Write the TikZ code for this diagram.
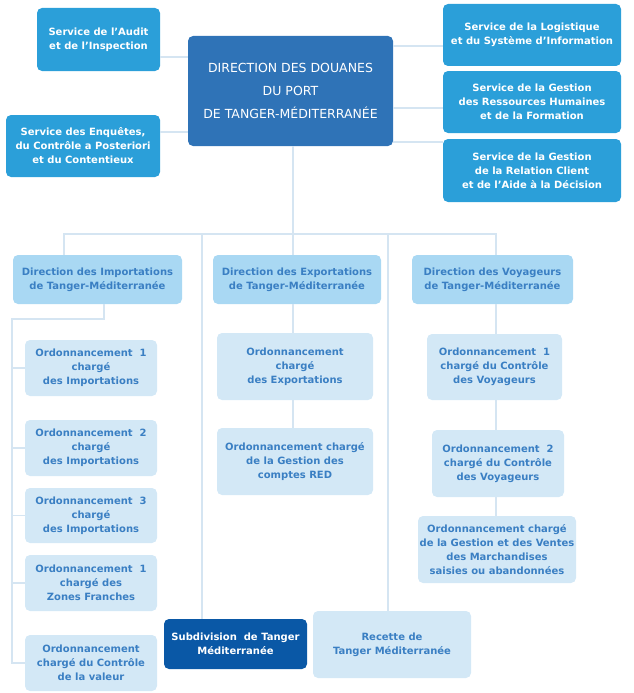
\documentclass[tikz,border=0pt]{standalone}
\usepackage{fontspec}
\setmainfont{DejaVu Sans}

\definecolor{servblue}{HTML}{2B9FD9}
\definecolor{dirblue}{HTML}{2F73B7}
\definecolor{levelblue}{HTML}{A9D8F3}
\definecolor{paleblue}{HTML}{D3E8F6}
\definecolor{textblue}{HTML}{3A7FC3}
\definecolor{subblue}{HTML}{0A58A6}
\definecolor{linkblue}{HTML}{D5E5F2}

\tikzset{
  box/.style={rounded corners=5pt, inner sep=1pt, align=center, font=\bfseries\fontsize{10}{14}\selectfont},
  service/.style={box, fill=servblue, text=white},
  level/.style={box, fill=levelblue, text=textblue},
  ord/.style={box, fill=paleblue, text=textblue},
  link/.style={draw=linkblue, line width=1.5pt}
}

\begin{document}
\begin{tikzpicture}[x=1pt,y=-1pt]
			\useasboundingbox (0,0) rectangle (634,693);
			% Direction and services
			\node[box, fill=dirblue, text=white, font=\fontsize{12.5}{23}\selectfont, minimum width=205pt, minimum height=110pt] (direction) at (290.5,91) {DIRECTION DES DOUANES\\DU PORT\\DE TANGER-MÉDITERRANÉE};
			\node[service, minimum width=123pt, minimum height=63pt] (audit) at (98.5,39.5) {Service de l’Audit\\et de l’Inspection};
			\node[service, minimum width=154pt, minimum height=62pt] (enquetes) at (83,146) {Service des Enquêtes,\\du Contrôle a Posteriori\\et du Contentieux};
			\node[service, minimum width=178pt, minimum height=62pt] (logistique) at (532,35) {Service de la Logistique\\et du Système d’Information};
			\node[service, minimum width=178pt, minimum height=62pt] (rh) at (532,102) {Service de la Gestion\\des Ressources Humaines\\et de la Formation};
			\node[service, minimum width=178pt, minimum height=63pt] (client) at (532,170.5) {Service de la Gestion\\de la Relation Client\\et de l’Aide à la Décision};
			
			% Directions
			\node[level, minimum width=169pt, minimum height=49pt] (imports) at (97.5,279.5) {Direction des Importations\\de Tanger-Méditerranée};
			\node[level, minimum width=168pt, minimum height=49pt] (exports) at (297,279.5) {Direction des Exportations\\de Tanger-Méditerranée};
			\node[level, minimum width=161pt, minimum height=49pt] (voyageurs) at (492.5,279.5) {Direction des Voyageurs\\de Tanger-Méditerranée};
			
			% Importations
			\node[ord, minimum width=132pt, minimum height=56pt] (imp1) at (91,368) {Ordonnancement~~1\\chargé\\des Importations};
			\node[ord, minimum width=132pt, minimum height=56pt] (imp2) at (91,448) {Ordonnancement~~2\\chargé\\des Importations};
			\node[ord, minimum width=132pt, minimum height=55pt] (imp3) at (91,515.5) {Ordonnancement~~3\\chargé\\des Importations};
			\node[ord, minimum width=132pt, minimum height=56pt] (zones) at (91,583) {Ordonnancement~~1\\chargé des\\Zones Franches};
			\node[ord, minimum width=132pt, minimum height=56pt] (valeur) at (91,663) {Ordonnancement\\chargé du Contrôle\\de la valeur};
			
			% Exportations
			\node[ord, minimum width=156pt, minimum height=67pt] (expord) at (295,366.5) {Ordonnancement\\chargé\\des Exportations};
			\node[ord, minimum width=156pt, minimum height=67pt] (red) at (295,461.5) {Ordonnancement chargé\\de la Gestion des\\comptes RED};
			
			% Voyageurs
			\node[ord, minimum width=135pt, minimum height=66pt] (voy1) at (494.5,367) {Ordonnancement~~1\\chargé du Contrôle\\des Voyageurs};
			\node[ord, minimum width=132pt, minimum height=67pt] (voy2) at (498,463.5) {Ordonnancement~~2\\chargé du Contrôle\\des Voyageurs};
			\node[ord, minimum width=158pt, minimum height=67pt] (march) at (497,549.5) {Ordonnancement chargé\\de la Gestion et des Ventes\\des Marchandises\\saisies ou abandonnées};
			
			% Subdivision and recette
			\node[box, fill=subblue, text=white, minimum width=143pt, minimum height=50pt] (subdiv) at (235.5,644) {Subdivision~~de Tanger\\Méditerranée};
			\node[ord, minimum width=158pt, minimum height=67pt] (recette) at (392,644.5) {Recette de\\Tanger Méditerranée};
			
			% Links to services
			\draw[link] (audit.east |- 0,57) -- (direction.west |- 0,57);
			\draw[link] (enquetes.east |- 0,132) -- (direction.west |- 0,132);
			\draw[link] (direction.east |- 0,46) -- (logistique.west |- 0,46);
			\draw[link] (direction.east |- 0,108) -- (rh.west |- 0,108);
			\draw[link] (direction.east |- 0,142) -- (client.west |- 0,142);
			
			% Tree
			\draw[link] (direction.south -| 293,0) -- (exports.north -| 293,0);
			\draw[link] (imports.north -| 64,0) |- (496,234) -- (voyageurs.north -| 496,0);
			\draw[link] (subdiv.north -| 202,0) -- (202,234);
			\draw[link] (recette.north -| 388,0) -- (388,234);
			\draw[link] (imports.south -| 104,0) |- (12,319) |- (valeur.west);
			\foreach \n in {imp1,imp2,imp3,zones}
				\draw[link] (\n.west -| 12,0) -- (\n.west);
			\draw[link] (exports.south -| 293,0) -- (expord.north -| 293,0);
			\draw[link] (expord.south -| 293,0) -- (red.north -| 293,0);
			\draw[link] (voyageurs.south -| 496,0) -- (voy1.north -| 496,0);
			\draw[link] (voy1.south -| 496,0) -- (voy2.north -| 496,0);
			\draw[link] (voy2.south -| 496,0) -- (march.north -| 496,0);
			
		\end{tikzpicture}
\end{document}
